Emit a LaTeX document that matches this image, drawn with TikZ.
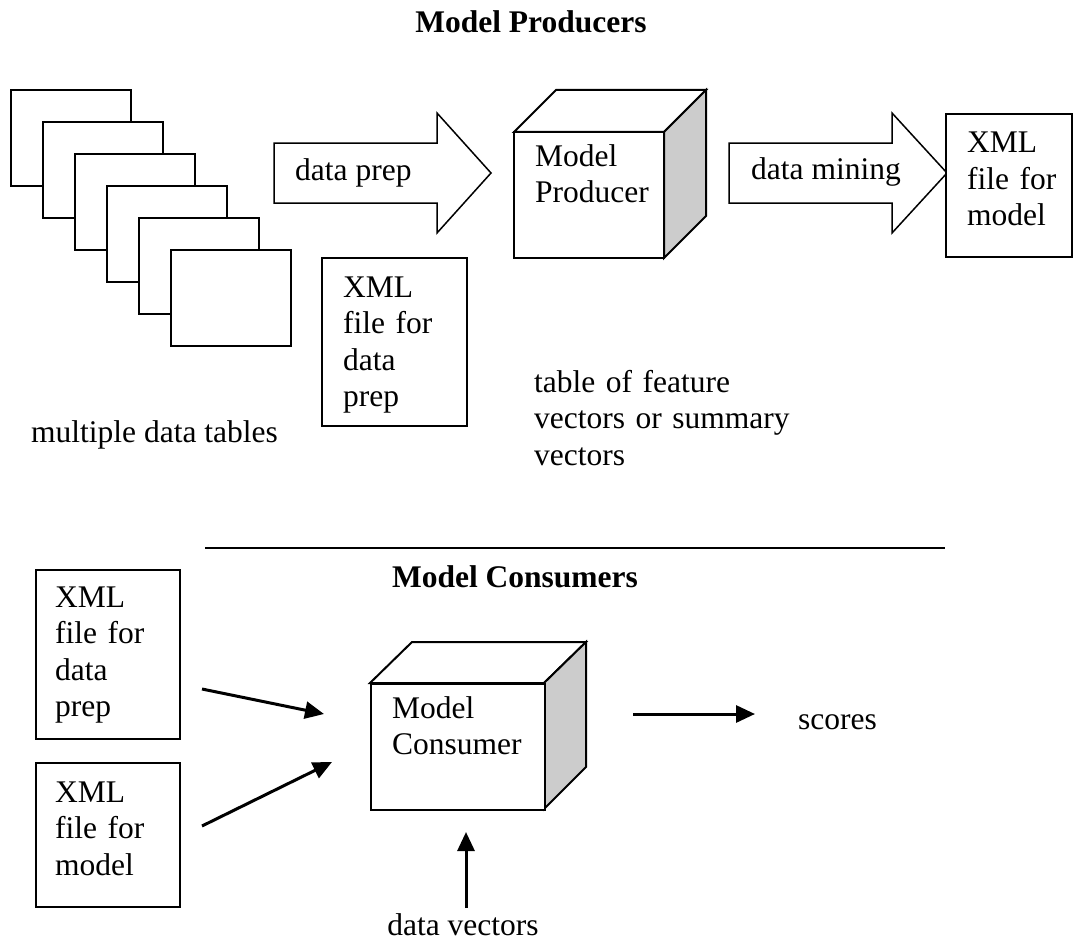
\documentclass[tikz,border=0pt]{standalone}
\usepackage{fontspec}
\setmainfont{Liberation Serif}
\usetikzlibrary{arrows.meta}

\tikzset{
  sheet/.style={draw, line width=2pt, fill=white},
  filebox/.style={draw, line width=2pt, fill=white},
  blockarrow/.style={draw, line width=1.5pt, fill=white, line join=miter},
  cubeline/.style={draw, line width=2pt, line join=miter},
  cubeside/.style={cubeline, fill=black!20},
  label/.style={inner sep=0pt, anchor=base west, font=\fontsize{31.5}{36.5}\selectfont},
  multiline/.style={label, text width=#1, align=left},
  heading/.style={inner sep=0pt, anchor=base, font=\fontsize{31.5}{36.5}\selectfont\bfseries},
  flow/.style={line width=3pt, -{Triangle[length=19pt,width=17pt]}}
}

\begin{document}
\begin{tikzpicture}[x=1pt, y=-1pt]
\useasboundingbox (0,0) rectangle (1081,947);

% ---------- producers ----------
\node[heading] (prodtitle) at (531,33) {Model Producers};

% stack of data tables
\foreach \i in {0,...,5}{
  \path[sheet] ({11+32*\i},{90+32*\i}) rectangle ++(120,96);
}
\node[label] (tables) at (31,442) {multiple data tables};

% data prep block arrow
\path[blockarrow] (274,143) -- (437,143) -- (437,113) -- (491,173)
  -- (437,233) -- (437,203) -- (274,203) -- cycle;
\node[label] (prep) at (295,180) {data prep};

% XML file for data prep
\path[filebox] (322,258) rectangle (467,426);
\node[multiline=120pt] (xmlprep) at (343,297) {XML\\file for\\data\\prep};

% Model Producer cube
\path[cubeline, fill=white] (514,132) -- (556,90) -- (706,90) -- (664,132) -- cycle;
\path[cubeside] (664,132) -- (706,90) -- (706,216) -- (664,258) -- cycle;
\path[cubeline, fill=white] (514,132) rectangle (664,258);
\node[multiline=130pt] (producer) at (535,166) {Model\\Producer};

\node[multiline=260pt] (vectors) at (534,392) {table of feature\\vectors or summary\\vectors};

% data mining block arrow
\path[blockarrow] (729,143) -- (892,143) -- (892,113) -- (947,173)
  -- (892,233) -- (892,203) -- (729,203) -- cycle;
\node[label] (mining) at (751,179) {data mining};

% XML file for model
\path[filebox] (946,114) rectangle (1072,257);
\node[multiline=100pt] (xmlmodel) at (967,153) {XML\\file for\\model};

% separator
\draw[line width=2pt] (205,548) -- (945,548);

% ---------- consumers ----------
\node[heading] (constitle) at (515,587) {Model Consumers};

\node[filebox, anchor=north west, minimum width=144pt, minimum height=169pt, inner sep=0pt] (boxprep) at (35,569) {};
\node[multiline=120pt] at (55,607) {XML\\file for\\data\\prep};

\node[filebox, anchor=north west, minimum width=144pt, minimum height=144pt, inner sep=0pt] (boxmodel) at (35,762) {};
\node[multiline=120pt] at (55,802) {XML\\file for\\model};

% Model Consumer cube
\path[cubeline, fill=white] (370,683) -- (412,642) -- (586,642) -- (544,683) -- cycle;
\path[cubeside] (544,683) -- (586,642) -- (586,767) -- (544,809) -- cycle;
\node[cubeline, fill=white, anchor=north west, minimum width=174pt, minimum height=126pt, inner sep=0pt] (consumer) at (370,683) {};
\node[multiline=160pt] at (392,718) {Model\\Consumer};

\node[label] (scores) at (798,729) {scores};
\node[heading, font=\fontsize{31.5}{36.5}\selectfont] (datavec) at (463,935) {data vectors};

% connectors
\coordinate (inA0) at (202,689);
\coordinate (inA1) at (324,714);
\coordinate (inB0) at (202,826);
\coordinate (inB1) at (332,762);
\coordinate (out0) at (633,714);
\coordinate (out1) at (755,714);
\coordinate (up0) at (466,908);
\coordinate (up1) at (466,832);
\draw[flow] (inA0) -- (inA1);
\draw[flow] (inB0) -- (inB1);
\draw[flow] (out0) -- (out1);
\draw[flow] (up0) -- (up1);
\end{tikzpicture}
\end{document}
